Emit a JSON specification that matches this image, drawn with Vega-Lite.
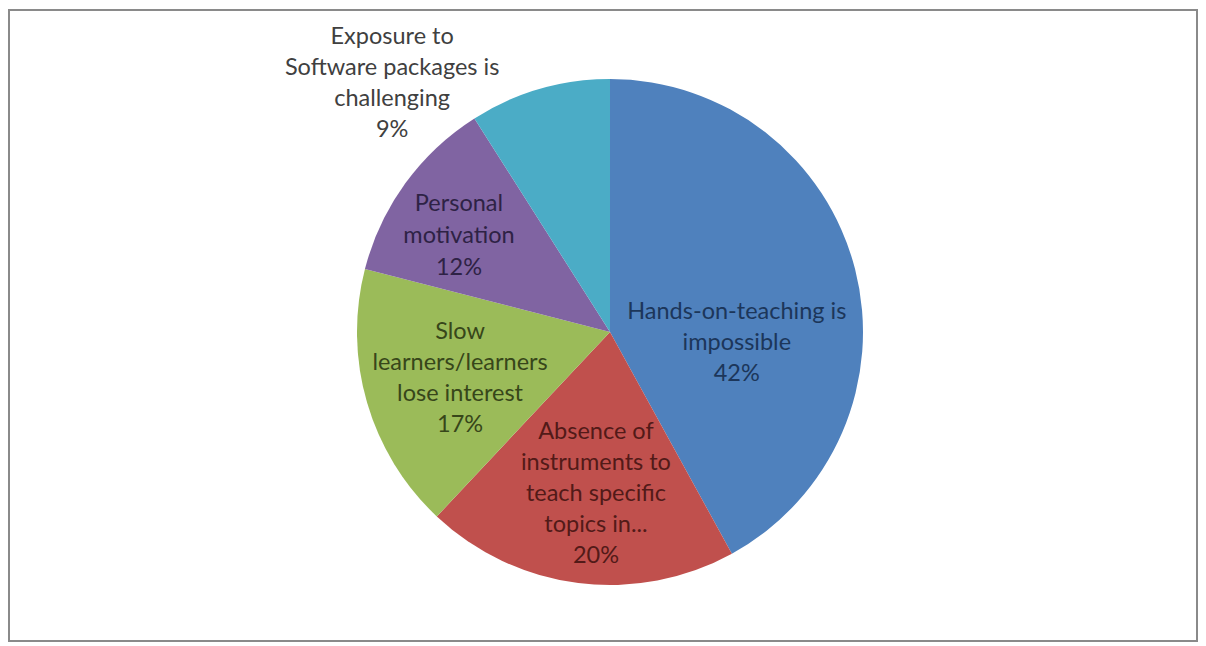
{
  "$schema": "https://vega.github.io/schema/vega-lite/v6.json",
  "width": 1206,
  "height": 646,
  "autosize": {"type": "fit", "contains": "padding"},
  "padding": {"left": 8, "top": 9, "right": 8, "bottom": 4},
  "background": "white",
  "config": {"view": {"stroke": null}},
  "data": {
    "values": [
      {"category": "Hands-on-teaching is impossible", "value": 42, "label": "Hands-on-teaching is\nimpossible\n42%"},
      {"category": "Absence of instruments to teach specific topics in...", "value": 20, "label": "Absence of\ninstruments to\nteach specific\ntopics in...\n20%"},
      {"category": "Slow learners/learners lose interest", "value": 17, "label": "Slow\nlearners/learners\nlose interest\n17%"},
      {"category": "Personal motivation", "value": 12, "label": "Personal\nmotivation\n12%"},
      {"category": "Exposure to Software packages is challenging", "value": 9, "label": "Exposure to\nSoftware packages is\nchallenging\n9%"}
    ]
  },
  "layer": [
    {
      "data": {"values": [{"frame": 1}]},
      "mark": {"type": "rect", "fill": null, "filled": false, "stroke": "#8a8a8a", "strokeWidth": 2},
      "encoding": {}
    },
    {
      "mark": {"type": "arc", "radius": 253, "xOffset": 7, "yOffset": 6.5},
      "encoding": {
        "theta": {"field": "value", "type": "quantitative", "stack": true},
        "order": {"field": "value", "type": "quantitative", "sort": "descending"},
        "color": {
          "field": "category",
          "type": "nominal",
          "legend": null,
          "scale": {
            "domain": ["Hands-on-teaching is impossible", "Absence of instruments to teach specific topics in...", "Slow learners/learners lose interest", "Personal motivation", "Exposure to Software packages is challenging"],
            "range": ["#4f81bd", "#c0504d", "#9bbb59", "#8064a2", "#4bacc6"]
          }
        }
      }
    },
    {
      "mark": {"type": "text", "radius": 134, "dx": 4, "dy": 20, "align": "center", "baseline": "middle", "lineBreak": "\n", "lineHeight": 31, "font": "Lato", "fontSize": 23.5, "color": "#1c365a"},
      "encoding": {
        "theta": {"field": "value", "type": "quantitative", "stack": true},
        "order": {"field": "value", "type": "quantitative", "sort": "descending"},
        "text": {"condition": {"test": "datum.value == 42", "field": "label"}, "value": ""}
      }
    },
    {
      "mark": {"type": "text", "radius": 168, "dx": 14, "dy": -60, "align": "center", "baseline": "middle", "lineBreak": "\n", "lineHeight": 31, "font": "Lato", "fontSize": 23.5, "color": "#521a18"},
      "encoding": {
        "theta": {"field": "value", "type": "quantitative", "stack": true},
        "order": {"field": "value", "type": "quantitative", "sort": "descending"},
        "text": {"condition": {"test": "datum.value == 20", "field": "label"}, "value": ""}
      }
    },
    {
      "mark": {"type": "text", "radius": 153, "dx": 4, "dy": -36.5, "align": "center", "baseline": "middle", "lineBreak": "\n", "lineHeight": 31, "font": "Lato", "fontSize": 23.5, "color": "#37461a"},
      "encoding": {
        "theta": {"field": "value", "type": "quantitative", "stack": true},
        "order": {"field": "value", "type": "quantitative", "sort": "descending"},
        "text": {"condition": {"test": "datum.value == 17", "field": "label"}, "value": ""}
      }
    },
    {
      "mark": {"type": "text", "radius": 183, "dx": 4, "dy": -14, "align": "center", "baseline": "middle", "lineBreak": "\n", "lineHeight": 32, "font": "Lato", "fontSize": 23.5, "color": "#2e2245"},
      "encoding": {
        "theta": {"field": "value", "type": "quantitative", "stack": true},
        "order": {"field": "value", "type": "quantitative", "sort": "descending"},
        "text": {"condition": {"test": "datum.value == 12", "field": "label"}, "value": ""}
      }
    },
    {
      "mark": {"type": "text", "radius": 254, "dx": -140, "dy": -44.5, "align": "center", "baseline": "middle", "lineBreak": "\n", "lineHeight": 31, "font": "Lato", "fontSize": 23.5, "color": "#404040"},
      "encoding": {
        "theta": {"field": "value", "type": "quantitative", "stack": true},
        "order": {"field": "value", "type": "quantitative", "sort": "descending"},
        "text": {"condition": {"test": "datum.value == 9", "field": "label"}, "value": ""}
      }
    }
  ]
}
